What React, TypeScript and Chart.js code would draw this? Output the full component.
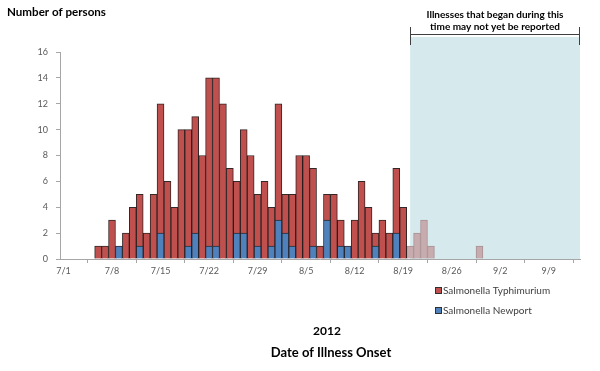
import React, { useEffect, useRef } from "react";
import { Chart, registerables } from "chart.js";

Chart.register(...registerables);

// Onset dates, one category per day (7/1 .. 9/13, 2012)
const onsetDates = [
  "7/1", "7/2", "7/3", "7/4", "7/5", "7/6", "7/7",
  "7/8", "7/9", "7/10", "7/11", "7/12", "7/13", "7/14",
  "7/15", "7/16", "7/17", "7/18", "7/19", "7/20", "7/21",
  "7/22", "7/23", "7/24", "7/25", "7/26", "7/27", "7/28",
  "7/29", "7/30", "7/31", "8/1", "8/2", "8/3", "8/4",
  "8/5", "8/6", "8/7", "8/8", "8/9", "8/10", "8/11",
  "8/12", "8/13", "8/14", "8/15", "8/16", "8/17", "8/18",
  "8/19", "8/20", "8/21", "8/22", "8/23", "8/24", "8/25",
  "8/26", "8/27", "8/28", "8/29", "8/30", "8/31", "9/1",
  "9/2", "9/3", "9/4", "9/5", "9/6", "9/7", "9/8",
  "9/9", "9/10", "9/11", "9/12", "9/13",
];

const newportCases = [
  0, 0, 0, 0, 0, 0, 0,
  0, 1, 0, 0, 1, 0, 0,
  2, 0, 0, 0, 1, 2, 0,
  1, 1, 0, 0, 2, 2, 0,
  1, 0, 1, 3, 2, 1, 0,
  0, 1, 0, 3, 0, 1, 1,
  0, 0, 0, 1, 0, 0, 2,
  0, 0, 0, 0, 0, 0, 0,
  0, 0, 0, 0, 0, 0, 0,
  0, 0, 0, 0, 0, 0, 0,
  0, 0, 0, 0, 0,
];

const typhimuriumCases = [
  0, 0, 0, 0, 0, 1, 1,
  3, 0, 2, 4, 4, 2, 5,
  10, 6, 4, 10, 9, 9, 8,
  13, 13, 12, 7, 4, 8, 8,
  4, 6, 3, 9, 3, 4, 8,
  8, 6, 1, 2, 5, 2, 0,
  3, 6, 4, 1, 3, 2, 5,
  4, 0, 0, 0, 0, 0, 0,
  0, 0, 0, 0, 0, 0, 0,
  0, 0, 0, 0, 0, 0, 0,
  0, 0, 0, 0, 0,
];

// Cases with onset in the reporting-lag window (drawn pale)
const recentCases = [
  0, 0, 0, 0, 0, 0, 0,
  0, 0, 0, 0, 0, 0, 0,
  0, 0, 0, 0, 0, 0, 0,
  0, 0, 0, 0, 0, 0, 0,
  0, 0, 0, 0, 0, 0, 0,
  0, 0, 0, 0, 0, 0, 0,
  0, 0, 0, 0, 0, 0, 0,
  0, 1, 2, 3, 1, 0, 0,
  0, 0, 0, 0, 1, 0, 0,
  0, 0, 0, 0, 0, 0, 0,
  0, 0, 0, 0, 0,
];

const xTickLabels = ["7/1", "7/8", "7/15", "7/22", "7/29", "8/5", "8/12", "8/19", "8/26", "9/2", "9/9"];
const yMax = 16;
const yStep = 2;
const lagStartDate = "8/20";

const seriesNames = ["Salmonella Typhimurium", "Salmonella Newport"];
const FONT = "Lato, 'Open Sans', sans-serif";

const nz = (a: number[]) => a.map((v) => (v === 0 ? null : v));

export default function App() {
  const ref = useRef<HTMLCanvasElement | null>(null);

  useEffect(() => {
    const canvas = ref.current;
    if (!canvas) return;

    const decorPlugin = {
      id: "decor",
      beforeDraw(chart: any) {
        const ctx = chart.ctx;
        const xs = chart.scales.x;
        const area = chart.chartArea;
        const left = xs.getPixelForValue(onsetDates.indexOf(lagStartDate));
        ctx.save();
        ctx.fillStyle = "#D6EAEE";
        ctx.fillRect(left, 37, area.right - left, area.bottom - 37);
        ctx.restore();
      },
      afterDraw(chart: any) {
        const ctx = chart.ctx;
        const xs = chart.scales.x;
        const area = chart.chartArea;
        const left = Math.round(xs.getPixelForValue(onsetDates.indexOf(lagStartDate))) + 0.5;
        const right = Math.round(area.right) - 0.5;
        ctx.save();
        // bracket
        ctx.strokeStyle = "#404040";
        ctx.lineWidth = 1;
        ctx.beginPath();
        ctx.moveTo(left, 34.5);
        ctx.lineTo(right, 34.5);
        ctx.moveTo(left, 27);
        ctx.lineTo(left, 45);
        ctx.moveTo(right, 27);
        ctx.lineTo(right, 45);
        ctx.stroke();

        ctx.fillStyle = "#000";
        ctx.textBaseline = "middle";
        ctx.textAlign = "center";
        ctx.font = `bold 10px ${FONT}`;
        const cx = (left + right) / 2;
        ctx.fillText("Illnesses that began during this", cx, 15);
        ctx.fillText("time may not yet be reported", cx, 27);

        // y axis title
        ctx.textAlign = "left";
        ctx.font = `bold 11.6px ${FONT}`;
        ctx.fillText("Number of persons", 7, 12.5);

        // x axis titles
        ctx.textAlign = "center";
        ctx.font = `bold 12px ${FONT}`;
        ctx.fillText("2012", 327, 331);
        ctx.font = `bold 13px ${FONT}`;
        ctx.fillText("Date of Illness Onset", 331, 353);

        // legend
        const legendColors = ["#C0504D", "#4F81BD"];
        ctx.font = `10px ${FONT}`;
        ctx.textAlign = "left";
        seriesNames.forEach((name, i) => {
          const y = 288 + i * 20;
          ctx.fillStyle = legendColors[i];
          ctx.fillRect(436, y, 5, 5);
          ctx.strokeStyle = "#303030";
          ctx.strokeRect(435.5, y - 0.5, 6, 6);
          ctx.fillStyle = "#404040";
          ctx.fillText(name, 443, y + 3);
        });
        ctx.restore();
      },
    };

    const chart = new Chart(canvas, {
      type: "bar",
      data: {
        labels: onsetDates,
        datasets: [
          {
            label: seriesNames[1],
            data: nz(newportCases),
            backgroundColor: "#4F81BD",
            borderColor: "rgba(20,20,30,0.9)",
            borderWidth: 1,
          },
          {
            label: seriesNames[0],
            data: nz(typhimuriumCases),
            backgroundColor: "#C0504D",
            borderColor: "rgba(30,15,15,0.9)",
            borderWidth: 1,
          },
          {
            label: "Recent onset",
            data: nz(recentCases),
            backgroundColor: "#C7ABAD",
            borderColor: "#A89094",
            borderWidth: 1,
          },
        ],
      },
      options: {
        responsive: false,
        animation: false,
        devicePixelRatio: 1,
        layout: { padding: { left: 0, top: 52, right: 20, bottom: 92 } },
        plugins: {
          legend: { display: false },
          tooltip: { enabled: false },
          title: { display: false },
        },
        datasets: {
          bar: { categoryPercentage: 1, barPercentage: 1 },
        },
        scales: {
          x: {
            stacked: true,
            offset: true,
            afterFit: (s: any) => {
              s.height = 20;
            },
            border: { display: true, color: "#A6A6A6", width: 1 },
            grid: {
              offset: true,
              drawOnChartArea: false,
              drawTicks: true,
              tickLength: 4,
              color: "#A6A6A6",
            },
            ticks: {
              autoSkip: false,
              maxRotation: 0,
              minRotation: 0,
              padding: 3,
              color: "#595959",
              font: { family: FONT, size: 9 },
              callback: (_v: any, i: number) =>
                xTickLabels.includes(onsetDates[i]) ? onsetDates[i] : null,
            },
          },
          y: {
            stacked: true,
            min: 0,
            max: yMax,
            afterFit: (s: any) => {
              s.width = 60;
            },
            border: { display: true, color: "#A6A6A6", width: 1 },
            grid: {
              drawOnChartArea: false,
              drawTicks: true,
              tickLength: 4,
              color: "#A6A6A6",
            },
            ticks: {
              stepSize: yStep,
              padding: 8,
              color: "#595959",
              font: { family: FONT, size: 9 },
            },
          },
        },
      },
      plugins: [decorPlugin],
    } as any);

    return () => chart.destroy();
  }, []);

  return (
    <div style={{ position: "fixed", left: 0, top: 0, width: 600, height: 371, background: "#fff" }}>
      <canvas ref={ref} width={600} height={371} style={{ width: 600, height: 371 }} />
    </div>
  );
}
